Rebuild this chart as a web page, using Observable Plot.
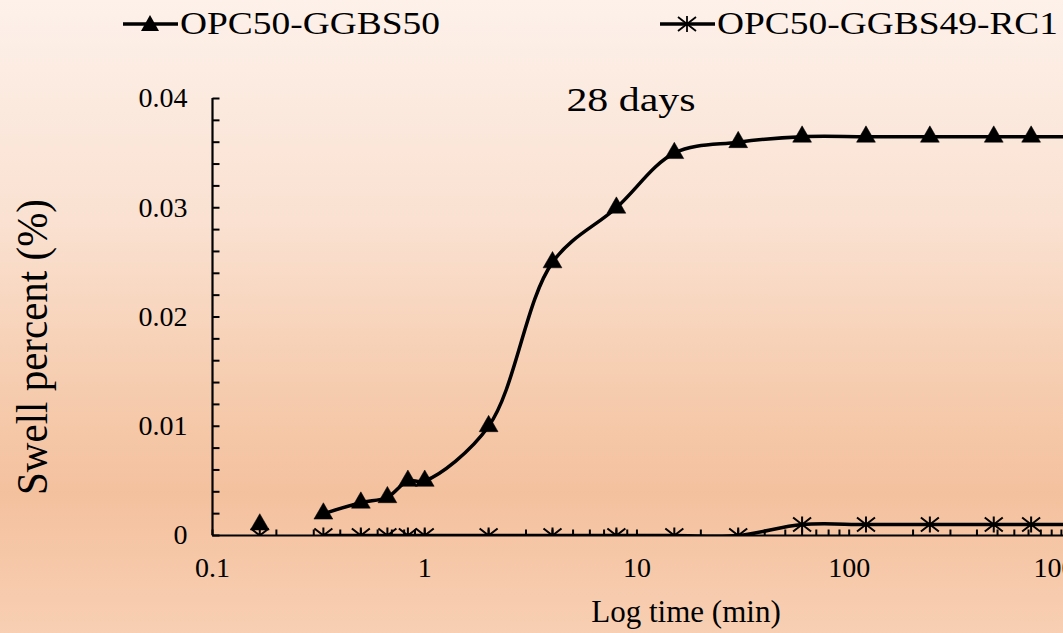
<!DOCTYPE html>
<html>
<head>
<meta charset="utf-8">
<script src="https://cdn.jsdelivr.net/npm/d3@7"></script>
<script src="https://cdn.jsdelivr.net/npm/@observablehq/plot@0.6"></script>
<style>
  html, body { margin: 0; padding: 0; overflow: hidden; }
  #wrap { position: relative; width: 1063px; height: 633px;
    background: linear-gradient(to bottom, #fdf1ea 0%, #fae1d1 35%, #f6cdb0 60%, #f4c19e 78%, #f8cfb3 100%);
    font-family: "Liberation Serif", "Times New Roman", serif; }
  #chart { position: absolute; left: 0; top: 0; }
  #over { position: absolute; left: 0; top: 0; pointer-events: none; }
</style>
</head>
<body>
<div id="wrap">
  <div id="chart"></div>
  <svg id="over" width="1063" height="633"></svg>
</div>
<script>
// ---- data ----
const seriesNames = ["OPC50-GGBS50", "OPC50-GGBS49-RC1"];
const timeMin = [0.167, 0.333, 0.5, 0.667, 0.833, 1, 2, 4, 8, 15, 30, 60, 120, 240, 480, 720, 1440];
const swellGGBS50 = [0.001, 0.002, 0.003, 0.0035, 0.005, 0.005, 0.010, 0.025, 0.030, 0.035, 0.036, 0.0365, 0.0365, 0.0365, 0.0365, 0.0365, 0.0365];
const swellRC1 = [0, 0, 0, 0, 0, 0, 0, 0, 0, 0, 0, 0.001, 0.001, 0.001, 0.001, 0.001, 0.001];
const xTickValues = [0.1, 1, 10, 100, 1000];
const yTickValues = [0, 0.01, 0.02, 0.03, 0.04];
const titleText = "28 days";
const xLabel = "Log time (min)";
const yLabel = "Swell percent (%)";

const rowsA = timeMin.map((t, i) => ({t, v: swellGGBS50[i]}));
const rowsB = timeMin.map((t, i) => ({t, v: swellRC1[i]}));

const xMinor = [];
for (const d of [0.1, 1, 10, 100]) for (let k = 1; k <= 9; k++) xMinor.push(+(d * k).toPrecision(3));
xMinor.push(1000);
const yMinor = d3.range(0, 21).map(i => +(i * 0.002).toFixed(3));

const tickRight = {draw(ctx) { ctx.moveTo(0, 0); ctx.lineTo(7, 0); }};
const tickUp = {draw(ctx) { ctx.moveTo(0, 0); ctx.lineTo(0, -6); }};
const star = {draw(ctx) {
  ctx.moveTo(0, -8); ctx.lineTo(0, 8);
  ctx.moveTo(-9, -7); ctx.lineTo(9, 7);
  ctx.moveTo(-9, 7); ctx.lineTo(9, -7);
}};

const chart = Plot.plot({
  width: 1063,
  height: 633,
  marginTop: 98,
  marginBottom: 98,
  marginLeft: 212,
  marginRight: 0,
  style: {background: "transparent", overflow: "visible", fontFamily: "Liberation Serif, Times New Roman, serif", fontSize: "28px", color: "black"},
  x: {type: "log", domain: [0.1, 1023], label: null},
  y: {domain: [0, 0.04], label: null},
  marks: [
    Plot.axisX({ticks: xTickValues, tickFormat: d => String(d), tickSize: 0, tickPadding: 22, label: null, fontSize: 28}),
    Plot.axisY({ticks: yTickValues, tickFormat: d => String(d), tickSize: 0, tickPadding: 25, label: null, fontSize: 28}),
    Plot.dot(yMinor, {y: d => d, frameAnchor: "left", symbol: tickRight, stroke: "black", strokeWidth: 2}),
    Plot.dot(xMinor, {x: d => d, frameAnchor: "bottom", symbol: tickUp, stroke: "black", strokeWidth: 2}),
    Plot.ruleX([0.1], {stroke: "black", strokeWidth: 2.2}),
    Plot.ruleY([0], {stroke: "black", strokeWidth: 2.2}),
    Plot.line(rowsB.slice(1), {x: "t", y: "v", curve: "catmull-rom", stroke: "black", strokeWidth: 3.5, clip: true}),
    Plot.line(rowsA.slice(1), {x: "t", y: "v", curve: "catmull-rom", stroke: "black", strokeWidth: 3.5, clip: true}),
    Plot.dot(rowsB, {x: "t", y: "v", symbol: star, stroke: "black", strokeWidth: 2, clip: true}),
    Plot.dot(rowsA, {x: "t", y: "v", symbol: "triangle", r: 7, fill: "black", stroke: "black", strokeWidth: 0.5, clip: true})
  ]
});
document.getElementById("chart").appendChild(chart);

// ---- title, axis titles and legend overlay ----
const NS = "http://www.w3.org/2000/svg";
const over = document.getElementById("over");
function addText(str, x, y, size, opts = {}) {
  const t = document.createElementNS(NS, "text");
  t.textContent = str;
  t.setAttribute("font-family", "Liberation Serif, Times New Roman, serif");
  t.setAttribute("font-size", size);
  t.setAttribute("fill", "black");
  t.setAttribute("text-anchor", opts.anchor || "start");
  let tr = `translate(${x},${y})`;
  if (opts.rotate) tr += ` rotate(${opts.rotate})`;
  if (opts.sx) tr += ` scale(${opts.sx},1)`;
  if (opts.sy) tr += ` scale(1,${opts.sy})`;
  t.setAttribute("transform", tr);
  over.appendChild(t);
  return t;
}
function addPath(d, attrs) {
  const p = document.createElementNS(NS, "path");
  p.setAttribute("d", d);
  for (const k in attrs) p.setAttribute(k, attrs[k]);
  over.appendChild(p);
}
addText(titleText, 631, 111, 33, {anchor: "middle", sx: 1.27});
addText(xLabel, 686, 622, 31, {anchor: "middle"});
addText(yLabel, 47, 347, 41, {anchor: "middle", rotate: -90, sy: 1.1});

// legend
addPath("M123,24 L178,24", {stroke: "black", "stroke-width": 3.5});
addPath("M150,15 L159,31 L141,31 Z", {fill: "black"});
addText(seriesNames[0], 180, 34, 32, {sx: 1.17});
addPath("M660,24 L715,24", {stroke: "black", "stroke-width": 3.5});
addPath("M687,16 L687,32 M678,17 L696,31 M678,31 L696,17", {stroke: "black", "stroke-width": 1.8, fill: "none"});
addText(seriesNames[1], 717, 34, 32, {sx: 1.17});
</script>
</body>
</html>
